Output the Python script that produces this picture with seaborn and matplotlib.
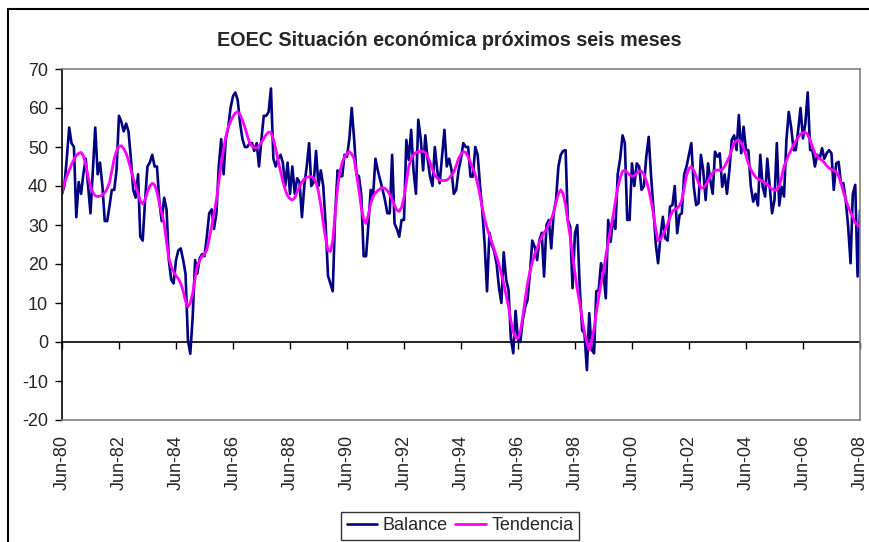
import numpy as np
import pandas as pd
import matplotlib
matplotlib.use("Agg")
import matplotlib.pyplot as plt
from matplotlib.lines import Line2D
import seaborn as sns

# Datos mensuales, jun-80 a jun-08
balance = [
    38, 40, 47, 55, 51, 50, 32, 41, 38, 43, 47, 40,
    33, 44, 55, 43, 46, 40, 31, 31, 35, 39, 39, 44,
    58, 56.5, 54, 56, 54, 47, 39, 37, 43, 27, 26, 36,
    45, 46, 48, 45, 45, 36, 31, 37, 34, 21, 16, 15,
    21, 23.5, 24, 21, 17.5, 0.5, -3, 6.5, 21, 17.5, 21.5, 22.5,
    22, 27, 33, 34, 29, 33, 45, 52, 43, 52, 55, 60,
    63, 64, 62, 56, 52, 50, 50, 51, 51, 49, 51, 45,
    52, 58, 58, 59, 65, 47, 45, 47, 48, 46, 40, 46,
    38, 45, 38, 42, 41, 32, 40, 45, 51, 40, 41, 49,
    40, 44, 40, 30, 17, 15, 13, 33, 44, 42.5, 42.5, 48,
    47.5, 52, 60, 52, 43, 42.5, 38, 22, 22, 29.6, 39, 37.3,
    47, 44, 41.5, 39, 36.4, 33, 33, 48, 30.4, 29, 27, 31.3,
    31.3, 51.8, 46.7, 54.4, 44, 38, 57, 52.2, 44, 53, 46.7, 42.4,
    40, 50, 44, 40.7, 47.5, 54.4, 45, 47, 44, 38, 39, 44,
    47, 51, 50, 50, 42.4, 42.4, 50, 48, 40, 33.8, 25, 13,
    28, 25, 23.2, 20, 14, 10, 23, 16, 13.3, 1, -2.9, 8,
    0.5, 0, 5.6, 9, 10.8, 17.6, 26, 24.4, 21, 26, 28, 16.8,
    30, 31.3, 24, 33, 36.4, 45, 48, 49, 49.2, 31.3, 29.6, 13.8,
    27.9, 30, 14.2, 3, 2.2, -7.2, 7.4, -2, -2.9, 13, 13.3, 20.2,
    17.6, 11.2, 31.3, 25.7, 31.3, 29, 43, 47, 53, 51, 31.3, 31.3,
    45.8, 40, 45.8, 45, 39, 40, 47.5, 52.6, 42.4, 34.7, 25.3, 20.2,
    27, 32.1, 26.6, 26, 34.7, 35.1, 40, 27.9, 32.6, 33, 43, 45,
    48, 51, 40, 35.1, 35.6, 48, 44, 36.4, 45.8, 41.5, 38, 48.8,
    47.5, 48.4, 39.8, 43, 38, 44, 51.8, 53, 49.2, 58.2, 48.4, 55.2,
    49.2, 49.2, 40, 36, 38, 35, 48, 39.8, 37.3, 47, 39.8, 33,
    36.4, 51, 35, 39.8, 37.3, 51.8, 59, 55, 49.2, 49.2, 54.4, 60,
    52.2, 56, 64, 49.2, 49.2, 45, 48, 47, 49.7, 47, 48.4, 49.2,
    48.4, 39, 45.8, 46.2, 40.7, 40.7, 36.4, 29.6, 20.2, 38, 40.3, 16.8, 33.8,
]

tendencia = [
    38.5, 40.5, 42.5, 44, 45.5, 46.8, 47.8, 48.4, 48.6, 47.8, 45.5, 42.4,
    40, 38.3, 37.5, 37.3, 37.4, 37.7, 38.3, 39.3, 41, 43.8, 47, 49,
    50.2, 50.3, 49.6, 48.4, 46.5, 44.2, 42, 40, 38, 36.2, 35.4, 36.5,
    38.5, 40, 40.7, 40.3, 38.5, 35.5, 33, 30.4, 25.5, 21.5, 19.3, 18,
    17, 16.2, 15, 13, 10.5, 9, 10, 12.5, 16.5, 19.5, 21, 22,
    22.5, 23.6, 26.5, 29.6, 33, 36.4, 41, 45.8, 49.5, 52.6, 55, 56.5,
    57.8, 58.7, 59, 58.3, 56.8, 55, 53, 51, 50.2, 49.8, 49.7, 50.3,
    51.2, 52.2, 53.2, 53.8, 53.8, 52, 49.5, 46.5, 43.8, 41.2, 39, 37.5,
    36.7, 36.4, 37, 38.5, 39.8, 41, 41.8, 42.2, 42.4, 42.4, 42, 41,
    38.5, 35, 30.5, 26.5, 23.5, 23.2, 26, 33, 39.5, 43.5, 46, 47.5,
    48.3, 48.8, 48.2, 47, 43, 39, 34.5, 31.5, 30.4, 32.5, 35.5, 37.3,
    38.2, 38.8, 39.3, 39.5, 39.4, 38.8, 37.8, 36.5, 35, 33.8, 33.5, 34.5,
    37, 41, 45, 47, 48, 48.6, 48.8, 48.9, 48.9, 48.5, 47.5, 46,
    44.2, 42.8, 42, 41.5, 41.4, 41.4, 41.5, 42, 42.8, 43.6, 45.2, 47,
    48.2, 48.8, 48.6, 47.5, 46, 44.5, 43, 40.5, 37.5, 34.5, 31.5, 29.3,
    27.3, 25.6, 23.7, 21.9, 19.8, 17.5, 15, 12, 9, 5.5, 2.5, 1.2,
    0.9, 2.5, 6.5, 11, 15, 18, 20.5, 22.5, 24, 25.5, 27, 28,
    29, 30.2, 31.5, 33.2, 35.8, 38, 39, 38, 35, 31, 27, 22.5,
    17.6, 13.5, 10, 6, 2.5, 0, -2, 0.5, 3.5, 7.5, 11.5, 15,
    18.2, 22, 25.5, 29, 32.2, 36, 39.5, 42, 43.8, 44, 43.5, 42.8,
    42.5, 42.6, 43.3, 43.8, 43.8, 43, 41.3, 39.2, 36.2, 33, 29, 26,
    26.3, 27.4, 28.8, 30.3, 32, 33.5, 34, 34.3, 35, 36.4, 39.5, 42.8,
    44.5, 45, 44, 42.5, 40.8, 39.5, 39.5, 40.2, 41.3, 42.5, 43.4, 44,
    44.1, 44, 44.3, 45, 46.2, 47.5, 49.2, 51, 51.6, 51.8, 51, 49.7,
    47.8, 45.8, 44.3, 43.2, 42.3, 41.8, 41.5, 41.2, 40.8, 40.4, 39.7, 39.2,
    39, 39, 40, 42.3, 45, 46.5, 48, 49.3, 50.5, 51.5, 52.5, 53.3,
    53.6, 53.8, 53.2, 51.8, 50, 48.4, 47.6, 47, 46.6, 46, 45.2, 44.6,
    44.2, 44, 43.6, 42.5, 40.8, 38.5, 36.5, 34.8, 33.2, 32, 30.5, 30, 29.6,
]

tick_labels = ["Jun-80", "Jun-82", "Jun-84", "Jun-86", "Jun-88", "Jun-90", "Jun-92",
               "Jun-94", "Jun-96", "Jun-98", "Jun-00", "Jun-02", "Jun-04", "Jun-06", "Jun-08"]

fechas = pd.date_range("1980-06-01", periods=len(balance), freq="MS")
df = pd.DataFrame({"fecha": fechas, "Balance": balance, "Tendencia": tendencia})
ticks = pd.date_range("1980-06-01", "2008-06-01", freq="24MS")

sns.set_style("white")
plt.rcParams["font.family"] = ["Liberation Sans", "DejaVu Sans"]
plt.rcParams["axes.unicode_minus"] = False

fig = plt.figure(figsize=(8.69, 5.42), dpi=100)
ax = fig.add_axes([62 / 869, 1 - 420 / 542, 798 / 869, 351 / 542])

sns.lineplot(data=df, x="fecha", y="Balance", ax=ax, color="#000080", lw=1.9, label="Balance")
sns.lineplot(data=df, x="fecha", y="Tendencia", ax=ax, color="#FF00FF", lw=2.0, label="Tendencia")

ax.set_xlim(fechas[0], fechas[-1])
ax.set_ylim(-20, 70)
ax.set_yticks(np.arange(-20, 71, 10))
ax.set_xticks(ticks)
ax.set_xticklabels(tick_labels, rotation=90, fontsize=13)
ax.tick_params(axis="x", length=0, pad=11)
ax.tick_params(axis="y", direction="out", length=5, width=1, color="black",
               labelsize=13, pad=5, left=True)
ax.set_xlabel("")
ax.set_ylabel("")
ax.grid(False)

for s in ["top", "right", "bottom"]:
    ax.spines[s].set_color("#808080")
    ax.spines[s].set_linewidth(1.2)
ax.spines["left"].set_color("black")
ax.spines["left"].set_linewidth(1.2)

# eje de categorías cruzando en 0
sec = ax.secondary_xaxis(20 / 90)
sec.set_xticks(ticks)
sec.tick_params(direction="out", length=5, width=1, color="black", labelbottom=False, labeltop=False)
for s in sec.spines.values():
    s.set_color("black")
    s.set_linewidth(1.2)

ax.get_legend().remove()
h, l = ax.get_legend_handles_labels()
leg = fig.legend(h, l, loc="upper center", bbox_to_anchor=(460 / 869, 1 - 512 / 542),
                 ncol=2, fontsize=13, frameon=True, fancybox=False, edgecolor="black",
                 handlelength=1.7, handletextpad=0.3, columnspacing=0.4, borderpad=0.3,
                 borderaxespad=0)
leg.get_frame().set_linewidth(1.0)

fig.text(449 / 869, 1 - 40 / 542, "EOEC Situación económica próximos seis meses",
         ha="center", va="center", fontsize=14.2, fontweight="bold")

# borde del área del gráfico
fig.add_artist(Line2D([8 / 869, 8 / 869], [0, 1 - 9 / 542], color="black", lw=1.5))
fig.add_artist(Line2D([8 / 869, 1], [1 - 9 / 542, 1 - 9 / 542], color="black", lw=1.5))

fig.savefig("out.png", dpi=100)
